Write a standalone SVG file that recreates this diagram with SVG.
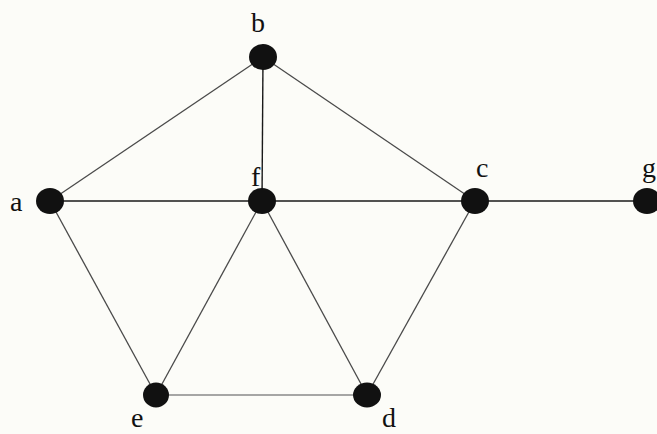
<svg xmlns="http://www.w3.org/2000/svg" width="657" height="434" viewBox="0 0 657 434">
  <style>
    .edge { stroke: #4a4a4a; stroke-width: 1.3; fill: none; }
    .dark { stroke: #1a1a1a; stroke-width: 1.4; }
    .light { stroke: #8a8a8a; stroke-width: 1.6; }
    .node { fill: #111; }
    .lbl { font-family: "Liberation Serif", "Times New Roman", serif; font-size: 28px; fill: #111; }
  </style>
  <rect x="0" y="0" width="657" height="434" fill="#fcfcf8"/>
  <g id="connectors">
    <line class="edge" x1="50" y1="201" x2="263" y2="57"/>
    <line class="edge dark" x1="263" y1="57" x2="262" y2="201"/>
    <line class="edge" x1="263" y1="57" x2="475" y2="201"/>
    <line class="edge dark" x1="50" y1="201" x2="262" y2="201"/>
    <line class="edge dark" x1="262" y1="201" x2="475" y2="201"/>
    <line class="edge dark" x1="475" y1="201" x2="647" y2="201"/>
    <line class="edge" x1="50" y1="201" x2="156" y2="395"/>
    <line class="edge" x1="262" y1="201" x2="156" y2="395"/>
    <line class="edge" x1="262" y1="201" x2="367" y2="395"/>
    <line class="edge" x1="475" y1="201" x2="367" y2="395"/>
    <line class="edge light" x1="156" y1="395" x2="367" y2="395"/>
  </g>
  <g id="node-b">
    <ellipse class="node" cx="263" cy="57" rx="14" ry="13"/>
    <text class="lbl" x="251" y="32">b</text>
  </g>
  <g id="node-a">
    <ellipse class="node" cx="50" cy="201" rx="14" ry="13"/>
    <text class="lbl" x="10" y="211">a</text>
  </g>
  <g id="node-f">
    <text class="lbl" x="251" y="186">f</text>
    <ellipse class="node" cx="262" cy="201" rx="14" ry="13"/>
  </g>
  <g id="node-c">
    <ellipse class="node" cx="475" cy="201" rx="14" ry="13"/>
    <text class="lbl" x="476" y="177">c</text>
  </g>
  <g id="node-g">
    <ellipse class="node" cx="647" cy="201" rx="14" ry="13"/>
    <text class="lbl" x="642" y="177">g</text>
  </g>
  <g id="node-e">
    <ellipse class="node" cx="156" cy="395" rx="13" ry="12.5"/>
    <text class="lbl" x="131" y="427">e</text>
  </g>
  <g id="node-d">
    <ellipse class="node" cx="367" cy="395" rx="14" ry="12.5"/>
    <text class="lbl" x="382" y="427">d</text>
  </g>
</svg>
